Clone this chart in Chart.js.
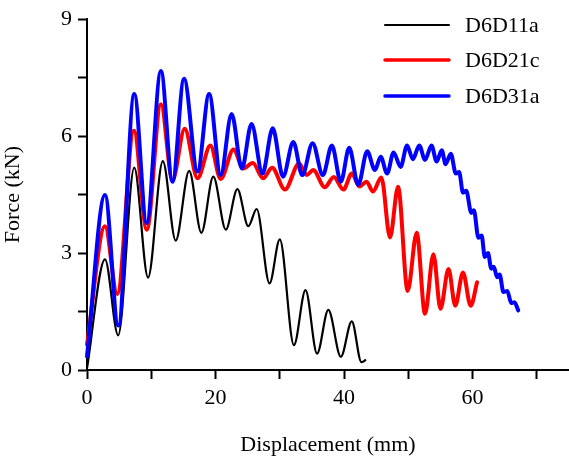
<!DOCTYPE html>
<html>
<head>
<meta charset="utf-8">
<script src="https://cdn.jsdelivr.net/npm/chart.js@4/dist/chart.umd.min.js"></script>
<style>
html,body{margin:0;padding:0;background:#fff;}
#wrap{width:569px;height:460px;position:relative;}
</style>
</head>
<body>
<div id="wrap"><canvas id="c" width="569" height="460"></canvas></div>
<script>
// Series names
const seriesNames = ["D6D11a", "D6D21c", "D6D31a"];

// D6D11a (black) — displacement (mm) and force (kN) at turning points
const blackX = [0, 2.8, 4.85, 7.35, 9.5, 11.8, 13.8, 15.9, 17.8, 19.65, 21.6, 23.4, 25.1, 26.4, 28.4, 30.0, 32.2, 34.0, 35.8, 37.55, 39.5, 41.2, 42.7, 43.3];
const blackY = [0.05, 2.84, 0.89, 5.19, 2.37, 5.36, 3.32, 5.11, 3.52, 4.96, 3.6, 4.64, 3.69, 4.13, 2.22, 3.35, 0.64, 2.05, 0.42, 1.54, 0.34, 1.25, 0.2, 0.25];

// D6D21c (red)
const redX = [0, 2.8, 4.7, 7.3, 9.3, 11.5, 13.3, 15.2, 17.2, 19.2, 20.8, 22.8, 24.3, 25.8, 27.4, 28.8, 30.8, 33.0, 34.2, 35.2, 37.0, 38.4, 39.9, 41.2, 42.4, 43.5, 44.5, 45.8, 47.15, 48.4, 49.9, 51.3, 52.6, 53.9, 55.0, 56.25, 57.3, 58.5, 59.7, 60.7];
const redY = [0.65, 3.69, 1.95, 6.14, 3.6, 6.82, 4.87, 6.19, 4.92, 5.76, 4.9, 5.66, 5.17, 5.31, 4.92, 5.19, 4.63, 5.3, 5.0, 5.13, 4.69, 4.95, 4.63, 5.04, 4.71, 4.83, 4.58, 4.94, 3.4, 4.7, 2.03, 3.52, 1.44, 2.97, 1.57, 2.59, 1.65, 2.5, 1.65, 2.25];

// D6D31a (blue)
const blueX = [0, 2.8, 4.87, 7.36, 9.28, 11.5, 13.3, 15.1, 17.2, 19.0, 20.8, 22.5, 24.1, 25.6, 27.3, 28.9, 30.5, 32.1, 33.5, 35.1, 36.7, 38.1, 39.5, 40.8, 42.2, 43.6, 44.8, 45.7, 46.7, 47.7, 48.8, 49.8, 50.7, 51.7, 52.6, 53.6, 54.4, 55.2, 55.8, 56.6, 57.4, 57.9, 58.5, 59.0, 59.8, 60.2, 60.9, 61.4, 61.9, 62.4, 62.9, 63.3, 63.8, 64.2, 64.8, 65.4, 66.0, 66.5, 67.1];
const blueY = [0.35, 4.49, 1.14, 7.08, 3.77, 7.67, 4.83, 7.47, 5.09, 7.08, 5.0, 6.57, 5.17, 6.31, 5.04, 6.2, 4.96, 5.85, 5.0, 5.82, 5.0, 5.76, 4.83, 5.7, 4.75, 5.61, 5.13, 5.47, 5.04, 5.58, 5.21, 5.76, 5.41, 5.76, 5.39, 5.76, 5.35, 5.64, 5.28, 5.55, 5.04, 5.08, 4.55, 4.6, 4.03, 4.1, 3.39, 3.45, 2.9, 3.0, 2.6, 2.65, 2.38, 2.45, 2.0, 2.03, 1.72, 1.74, 1.53];

// Axis ticks
const xMajorTicks = [0, 20, 40, 60];
const yMajorTicks = [0, 3, 6, 9];

const colors = ["#000000", "#ff0000", "#0000ff"];
const widths = [2.2, 4, 4];
const legendWidths = [2, 3.5, 3.5];

function pts(xs, ys) { return xs.map((x, i) => ({x: x, y: ys[i]})); }

const FONT = "'Liberation Serif', 'Times New Roman', serif";

const legendPlugin = {
  id: 'customLegend',
  afterDraw(chart) {
    const ctx = chart.ctx;
    ctx.save();
    const rows = [25, 60, 96];
    ctx.font = "22px " + FONT;
    ctx.textBaseline = 'middle';
    ctx.textAlign = 'left';
    for (let i = 0; i < 3; i++) {
      ctx.beginPath();
      ctx.strokeStyle = colors[i];
      ctx.lineWidth = legendWidths[i];
      ctx.lineCap = 'round';
      ctx.moveTo(385, rows[i]);
      ctx.lineTo(449, rows[i]);
      ctx.stroke();
      ctx.fillStyle = '#000';
      ctx.fillText(seriesNames[i], 465, rows[i] + 1);
    }
    ctx.restore();
  }
};

const commonLine = {
  fill: false,
  pointRadius: 0,
  cubicInterpolationMode: 'monotone',
  borderJoinStyle: 'round',
  borderCapStyle: 'round',
  clip: false
};

new Chart(document.getElementById('c'), {
  type: 'line',
  data: {
    datasets: [
      Object.assign({label: seriesNames[0], data: pts(blackX, blackY), borderColor: colors[0], borderWidth: widths[0], order: 3}, commonLine),
      Object.assign({label: seriesNames[1], data: pts(redX, redY), borderColor: colors[1], borderWidth: widths[1], order: 2}, commonLine),
      Object.assign({label: seriesNames[2], data: pts(blueX, blueY), borderColor: colors[2], borderWidth: widths[2], order: 1}, commonLine)
    ]
  },
  options: {
    responsive: false,
    animation: false,
    events: [],
    layout: {padding: {top: 16, right: 0, left: 0, bottom: 0}},
    plugins: {legend: {display: false}, tooltip: {enabled: false}},
    scales: {
      x: {
        type: 'linear', min: 0, max: 75,
        afterBuildTicks(scale) {
          const t = [];
          for (let v = 0; v <= 70; v += 10) t.push({value: v});
          scale.ticks = t;
        },
        afterFit(scale) { scale.height = 90; },
        ticks: {
          autoSkip: false, maxRotation: 0, color: '#000', padding: 6,
          font: {family: FONT, size: 22},
          callback: (v) => xMajorTicks.includes(v) ? String(v) : ''
        },
        grid: {display: true, drawOnChartArea: false, drawTicks: true, tickLength: 9, tickWidth: 2, tickColor: '#000'},
        border: {display: true, color: '#000', width: 2},
        title: {display: true, text: 'Displacement (mm)', color: '#000', font: {family: FONT, size: 22}, padding: {top: 0, bottom: 2}}
      },
      y: {
        type: 'linear', min: 0, max: 9,
        afterBuildTicks(scale) {
          const t = [];
          for (let v = 0; v <= 9; v += 1.5) t.push({value: v});
          scale.ticks = t;
        },
        afterFit(scale) { scale.width = 87; },
        ticks: {
          autoSkip: false, color: '#000', padding: 6,
          font: {family: FONT, size: 22},
          callback: (v) => yMajorTicks.includes(v) ? String(v) : ''
        },
        grid: {display: true, drawOnChartArea: false, drawTicks: true, tickLength: 9, tickWidth: 2, tickColor: '#000'},
        border: {display: true, color: '#000', width: 2},
        title: {display: true, text: 'Force (kN)', color: '#000', font: {family: FONT, size: 22}, padding: {top: 0, bottom: 8}}
      }
    }
  },
  plugins: [legendPlugin]
});
</script>
</body>
</html>
